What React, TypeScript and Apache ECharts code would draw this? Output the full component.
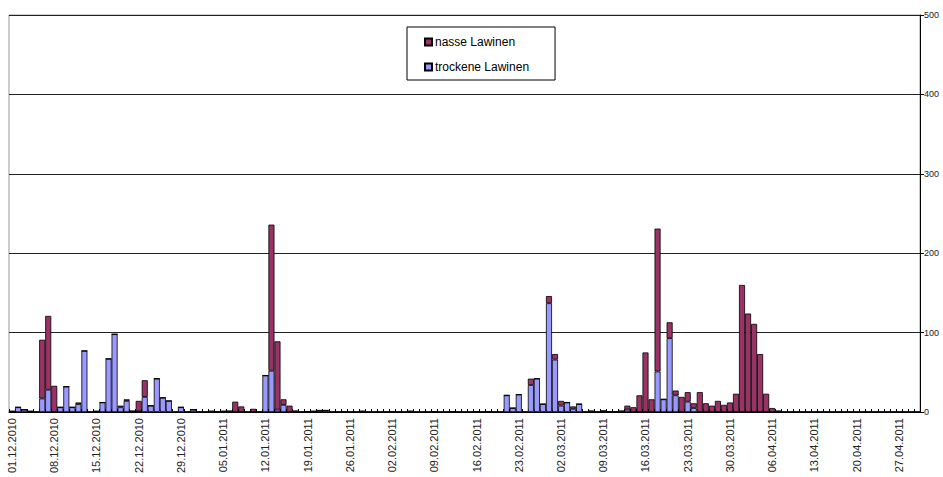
import React, { useEffect, useRef } from "react";
import * as echarts from "echarts";

const startDate = new Date(2010, 11, 1);
const dayCount = 151;

// dry avalanches (bottom of stack), by day index from 01.12.2010
const trockeneEntries: [number, number][] = [
  [0, 1], [1, 6], [2, 3], [3, 1], [5, 17], [6, 28], [8, 6], [9, 32], [10, 6], [11, 10],
  [12, 77], [14, 1], [15, 12], [16, 67], [17, 98], [18, 6], [19, 14], [21, 1], [22, 19],
  [23, 8], [24, 42], [25, 18], [26, 14], [28, 6], [30, 3], [33, 1], [35, 1],
  [42, 46], [43, 52], [44, 3], [45, 9], [50, 1], [51, 2], [52, 2], [58, 1], [66, 1],
  [82, 21], [83, 5], [84, 22], [86, 34], [87, 42], [88, 10], [89, 137], [90, 66],
  [91, 8], [92, 12], [93, 4], [94, 10], [98, 1], [102, 3], [107, 51], [108, 16],
  [109, 93], [110, 21], [112, 13], [113, 5],
];

// wet avalanches (top of stack)
const nasseEntries: [number, number][] = [
  [5, 74], [6, 93], [7, 33], [11, 2], [18, 2], [19, 2], [20, 2], [21, 13], [22, 21],
  [34, 1], [36, 2], [37, 13], [38, 7], [40, 4], [43, 184], [44, 86], [45, 7], [46, 8],
  [47, 2], [49, 1], [55, 1], [63, 1], [70, 1], [73, 1], [77, 1], [79, 1],
  [86, 8], [89, 9], [90, 7], [91, 6], [93, 3], [96, 2], [98, 1], [99, 1], [100, 1],
  [101, 2], [102, 5], [103, 6], [104, 21], [105, 75], [106, 16], [107, 180], [109, 20],
  [110, 6], [111, 19], [112, 12], [113, 6], [114, 25], [115, 11], [116, 8], [117, 14],
  [118, 9], [119, 12], [120, 23], [121, 160], [122, 124], [123, 111], [124, 73],
  [125, 23], [126, 5], [127, 2],
];

const yTicks = [0, 100, 200, 300, 400, 500];

function pad(n: number) {
  return n < 10 ? "0" + n : "" + n;
}

const categories: string[] = [];
for (let i = 0; i < dayCount; i++) {
  const d = new Date(startDate.getFullYear(), startDate.getMonth(), startDate.getDate() + i);
  categories.push(pad(d.getDate()) + "." + pad(d.getMonth() + 1) + "." + d.getFullYear());
}

function toSeries(entries: [number, number][]) {
  const arr = new Array(dayCount).fill(0);
  entries.forEach(([i, v]) => (arr[i] = v));
  return arr;
}

const trockene = toSeries(trockeneEntries);
const nasse = toSeries(nasseEntries);

export default function App() {
  const ref = useRef<HTMLDivElement>(null);
  useEffect(() => {
    if (!ref.current) return;
    const chart = echarts.init(ref.current, undefined, { renderer: "svg" });
    chart.setOption({
      animation: false,
      backgroundColor: "#ffffff",
      textStyle: { fontFamily: "'Liberation Sans', Arial, sans-serif" },
      grid: {
        left: 9,
        right: 23,
        top: 15,
        bottom: 65,
        show: true,
        borderColor: "#999",
        borderWidth: 1,
      },
      legend: {
        data: ["nasse Lawinen", "trockene Lawinen"],
        orient: "vertical",
        left: 407,
        top: 27,
        width: 150,
        itemWidth: 7,
        itemHeight: 7,
        itemGap: 13,
        padding: [9, 26, 7, 17],
        borderColor: "#000",
        borderWidth: 1,
        icon: "rect",
        textStyle: { fontSize: 12, color: "#000", padding: [0, 0, 0, -2] },
      },
      xAxis: {
        type: "category",
        data: categories,
        boundaryGap: true,
        axisLine: { show: true, lineStyle: { color: "#000", width: 1 } },
        axisTick: { show: true, inside: true, length: 3, interval: 0, lineStyle: { color: "#000" } },
        axisLabel: {
          interval: 6,
          rotate: 90,
          fontSize: 11,
          color: "#222",
          margin: 6,
        },
        splitLine: { show: false },
      },
      yAxis: {
        type: "value",
        position: "right",
        min: yTicks[0],
        max: yTicks[yTicks.length - 1],
        interval: 100,
        axisLine: { show: true, lineStyle: { color: "#000", width: 1 } },
        axisTick: { show: true, length: 4, lineStyle: { color: "#000" } },
        axisLabel: { fontSize: 9, color: "#222", margin: 4 },
        splitLine: { show: true, lineStyle: { color: "#222", width: 1.2 } },
      },
      series: [
        {
          name: "trockene Lawinen",
          type: "bar",
          stack: "total",
          data: trockene,
          barCategoryGap: "0%",
          itemStyle: { color: "#9999ff", borderColor: "#000", borderWidth: 0.8 },
        },
        {
          name: "nasse Lawinen",
          type: "bar",
          stack: "total",
          data: nasse,
          barCategoryGap: "0%",
          itemStyle: { color: "#993366", borderColor: "#000", borderWidth: 0.8 },
        },
      ],
    });
    return () => chart.dispose();
  }, []);
  return (
    <div
      ref={ref}
      style={{ position: "fixed", left: 0, top: 0, width: 943, height: 477 }}
    />
  );
}
